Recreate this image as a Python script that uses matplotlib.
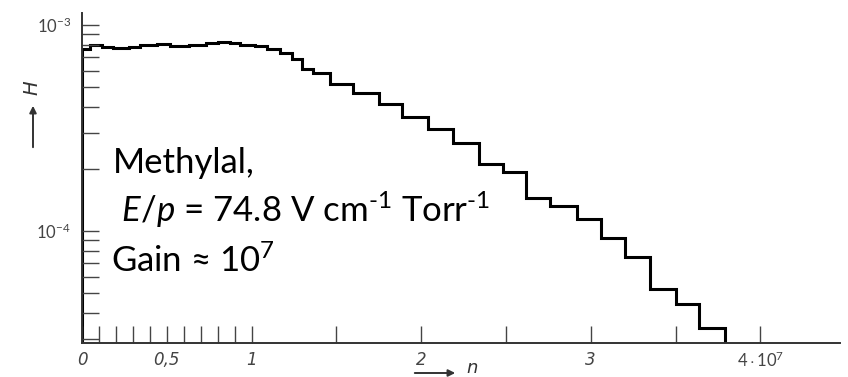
import numpy as np
import matplotlib
matplotlib.use("Agg")
import matplotlib.pyplot as plt
from matplotlib.ticker import FixedLocator, NullFormatter

plt.rcParams['mathtext.fontset'] = 'custom'
plt.rcParams['mathtext.rm'] = 'Lato'
plt.rcParams['mathtext.it'] = 'Lato:italic'

# histogram edges (n, in units of 1e7) and heights H
n_edges = [0.0, 0.05, 0.12, 0.18, 0.28, 0.34, 0.44, 0.52, 0.63, 0.73, 0.80,
           0.87, 0.93, 1.02, 1.09, 1.17, 1.24, 1.30, 1.36, 1.46, 1.60, 1.75,
           1.89, 2.04, 2.19, 2.34, 2.48, 2.62, 2.76, 2.92, 3.06, 3.20, 3.35,
           3.50, 3.64, 3.79]
H_vals = [7.65e-4, 8.00e-4, 7.82e-4, 7.73e-4, 7.82e-4, 8.00e-4, 8.09e-4,
          7.91e-4, 8.00e-4, 8.18e-4, 8.27e-4, 8.18e-4, 8.00e-4, 7.91e-4,
          7.65e-4, 7.31e-4, 6.84e-4, 6.11e-4, 5.85e-4, 5.17e-4, 4.68e-4,
          4.14e-4, 3.58e-4, 3.13e-4, 2.67e-4, 2.12e-4, 1.93e-4, 1.45e-4,
          1.32e-4, 1.14e-4, 0.925e-4, 0.748e-4, 0.523e-4, 0.442e-4, 0.338e-4]

x_ticks = [0, 0.5, 1, 1.5, 2, 2.5, 3, 3.5, 4]
x_minor = [0.1, 0.2, 0.3, 0.4, 0.6, 0.7, 0.8, 0.9]
x_labels = ['0', '0,5', '1', '', '2', '', '3', '', r'$\mathit{4\cdot10^{7}}$']
y_ticks = [1e-4, 1e-3]
y_labels = [r'$\mathit{10^{-4}}$', r'$\mathit{10^{-3}}$']
y_minor = [m * 10.0**e for e in (-5, -4) for m in range(2, 10)]

ymin, ymax = 2.86e-5, 1.143e-3

fig = plt.figure(figsize=(8.48, 3.77), dpi=100)
ax = fig.add_axes([82/848, 1 - 343/377, (840 - 82)/848, (343 - 13)/377])

ax.stairs(H_vals, n_edges, baseline=ymin, color='black', lw=2.2)

ax.set_yscale('log')
ax.set_xlim(0, 4.47)
ax.set_ylim(ymin, ymax)

for s in ['top', 'right']:
    ax.spines[s].set_visible(False)
for s in ['left', 'bottom']:
    ax.spines[s].set_color('#333333')
    ax.spines[s].set_linewidth(1.4)

ax.xaxis.set_major_locator(FixedLocator(x_ticks))
ax.xaxis.set_minor_locator(FixedLocator(x_minor))
ax.set_xticklabels(x_labels)
ax.yaxis.set_major_locator(FixedLocator(y_ticks))
ax.yaxis.set_minor_locator(FixedLocator(y_minor))
ax.yaxis.set_minor_formatter(NullFormatter())
ax.set_yticklabels(y_labels)

ax.tick_params(axis='both', which='both', direction='in', length=12,
               width=1.0, color='#444444', labelcolor='#444444')
ax.tick_params(axis='x', pad=6, labelsize=12)
ax.tick_params(axis='y', pad=8, labelsize=12)
for lbl in ax.get_xticklabels():
    lbl.set_fontstyle('italic')

# axis labels with arrows, as in the scanned figure
fig.text(32/848, 1 - 88/377, 'H', rotation=90, fontsize=14, fontstyle='italic',
         color='#333333', ha='center', va='center')
fig.add_artist(plt.Annotation('', xy=(33/848, 1 - 103/377), xytext=(33/848, 1 - 150/377),
                              xycoords='figure fraction', textcoords='figure fraction',
                              arrowprops=dict(arrowstyle='-|>', color='#333333', lw=1.4)))
fig.add_artist(plt.Annotation('', xy=(458/848, 1 - 373/377), xytext=(412/848, 1 - 373/377),
                              xycoords='figure fraction', textcoords='figure fraction',
                              arrowprops=dict(arrowstyle='-|>', color='#333333', lw=1.4)))
fig.text(472/848, 1 - 368/377, 'n', fontsize=13, fontstyle='italic',
         color='#333333', ha='center', va='center')

# annotation text
fs = 25
fig.text(113/848, 1 - 173/377, 'Methylal,', fontsize=fs, family='Lato', va='baseline')
fig.text(113/848, 1 - 222/377,
         r' $\mathit{E/p}$ = 74.8 V cm$^{\text{-1}}$ Torr$^{\text{-1}}$',
         fontsize=fs, family='Lato', va='baseline')
fig.text(111/848, 1 - 272/377, 'Gain \u2248 10$^{7}$', fontsize=fs,
         family=['Lato', 'DejaVu Sans'], va='baseline')

fig.savefig('out.png', dpi=100)
